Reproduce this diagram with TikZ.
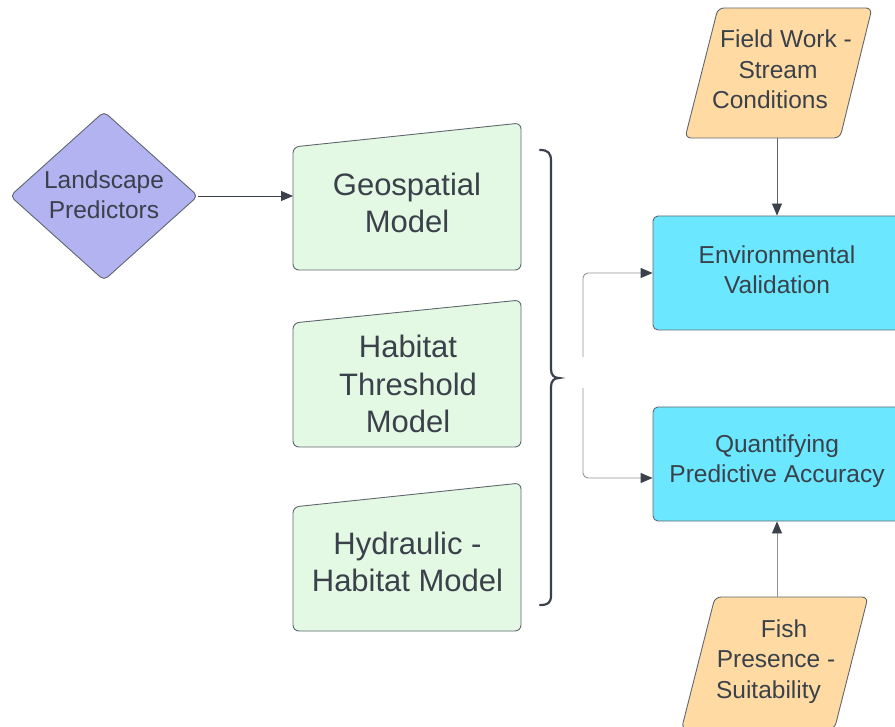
\documentclass[tikz,border=0pt]{standalone}
\usepackage{fontspec}
\setmainfont{Liberation Sans}
\usetikzlibrary{arrows.meta,calc,shapes.geometric}
\definecolor{txt}{HTML}{3A414A}
\definecolor{edge}{HTML}{5F666E}
\definecolor{lav}{HTML}{B3B3F2}
\definecolor{mint}{HTML}{E3F9E3}
\definecolor{cyanbox}{HTML}{6BE8FF}
\definecolor{peach}{HTML}{FFDBA3}
\definecolor{lightline}{HTML}{8E9398}
\begin{document}
\begin{tikzpicture}[x=1pt,y=-1pt,
  smalltxt/.style={text=txt, align=center, font=\fontsize{24.5}{30.5}\selectfont, inner sep=0pt},
  bigtxt/.style={text=txt, align=center, font=\fontsize{31}{37.5}\selectfont, inner sep=0pt},
  shapeline/.style={draw=edge, line width=0.9pt, rounded corners=6pt},
  bluebox/.style={draw=edge, fill=cyanbox, line width=0.9pt, rounded corners=5pt,
    minimum width=248pt, minimum height=114pt, inner sep=0pt},
  tip/.style={-{Triangle[length=12pt,width=10pt,color=txt]}},
  darkconn/.style={draw=txt, line width=0.8pt, tip},
  lightconn/.style={draw=lightline, line width=0.9pt, tip, rounded corners=5pt}
]
\useasboundingbox (0,0) rectangle (895,727);
\clip (0,0) rectangle (895,727);

% Landscape Predictors diamond
\node[diamond, draw=edge, fill=lav, line width=0.9pt, rounded corners=5pt,
  minimum width=188pt, minimum height=169pt, inner sep=0pt, aspect=1.11] (land) at (104,196) {};
\node[smalltxt] (landT) at (104,194.5) {Landscape\\Predictors};

% Green model boxes
\draw[shapeline, fill=mint] (293,147) -- (521,123) -- (521,270) -- (293,270) -- cycle;
\node[bigtxt] (geoT) at (407,202.7) {Geospatial\\Model};
\coordinate (geoW) at (293,196);

\draw[shapeline, fill=mint] (293,323) -- (521,300) -- (521,447) -- (293,447) -- cycle;
\node[bigtxt] (habT) at (408,384) {Habitat\\Threshold\\Model};

\draw[shapeline, fill=mint] (293,507) -- (521,483) -- (521,631) -- (293,631) -- cycle;
\node[bigtxt] (hydT) at (407.5,562) {Hydraulic -\\Habitat Model};

% Brace
\draw[txt, line width=2.2pt, line cap=round]
  (540,150) .. controls (548,150) and (551,153) .. (551,161)
  -- (551,369) .. controls (551,375) and (554,378) .. (559,378)
  .. controls (554,378) and (551,381) .. (551,387)
  -- (551,595) .. controls (551,603) and (548,605) .. (540,605);
\coordinate (upStart) at (583,357);
\coordinate (loStart) at (583,388);

% Blue boxes
\node[bluebox, label={[smalltxt, yshift=3.5pt]center:{Environmental\\Validation}}] (env) at (777,273) {};
\node[bluebox, label={[smalltxt, yshift=3pt]center:{Quantifying\\Predictive Accuracy}}] (acc) at (777,464) {};

% Parallelograms
\draw[shapeline, fill=peach] (718,8) -- (872,8) -- (840,138) -- (685,138) -- cycle;
\node[smalltxt] (fieldT) at (778,69.5) {\hspace*{16pt}Field Work -\\Stream\\Conditions\hspace*{16pt}};
\coordinate (fieldB) at (777,138);

\draw[shapeline, fill=peach] (715,597) -- (868,597) -- (834.5,729) -- (681.5,729) -- cycle;
\node[smalltxt] (fishT) at (776,661.5) {\hspace*{16pt}Fish\\Presence -\\Suitability\hspace*{15pt}};
\coordinate (fishTop) at (777,597);

% Connectors
\draw[darkconn] (land.east) -- (geoW);
\draw[lightconn] (upStart) |- (env.west);
\draw[lightconn] (loStart) |- ($(acc.west)+(0,14)$);
\draw[draw=edge, line width=0.8pt, tip] (fieldB) -- (env.north);
\draw[draw=lightline, line width=0.9pt, tip] (fishTop) -- (acc.south);
\end{tikzpicture}
\end{document}
